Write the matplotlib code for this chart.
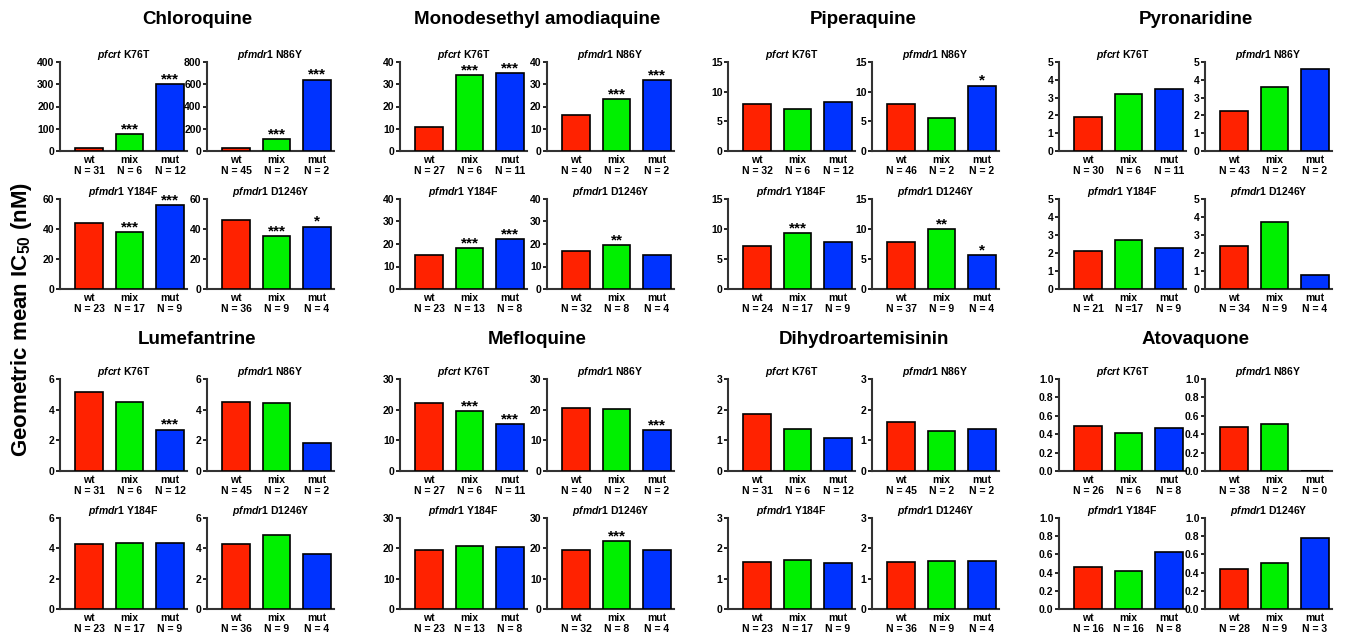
import numpy as np
import matplotlib.pyplot as plt

plt.rcParams['font.family'] = ['Liberation Sans', 'DejaVu Sans']
plt.rcParams['font.weight'] = 'bold'
plt.rcParams['mathtext.fontset'] = 'custom'
plt.rcParams['mathtext.it'] = 'Liberation Sans:italic:bold'
plt.rcParams['mathtext.rm'] = 'Liberation Sans:bold'
plt.rcParams['mathtext.bf'] = 'Liberation Sans:bold'

# ---------------------------------------------------------------------------
# data
# ---------------------------------------------------------------------------
drugs = ['Chloroquine', 'Monodesethyl amodiaquine', 'Piperaquine', 'Pyronaridine',
         'Lumefantrine', 'Mefloquine', 'Dihydroartemisinin', 'Atovaquone']
genes = [('pfcrt', 'K76T'), ('pfmdr1', 'N86Y'), ('pfmdr1', 'Y184F'), ('pfmdr1', 'D1246Y')]
groups = ['wt', 'mix', 'mut']

chloroquine_ic50 = [[15, 75, 300], [30, 105, 640], [44, 38, 56], [46, 35, 41.5]]
chloroquine_n = [[31, 6, 12], [45, 2, 2], [23, 17, 9], [36, 9, 4]]
chloroquine_sig = [['', '***', '***'], ['', '***', '***'], ['', '***', '***'], ['', '***', '*']]

amodiaquine_ic50 = [[11, 34, 35], [16.3, 23.3, 31.8], [15.3, 18, 22], [16.8, 19.6, 15.2]]
amodiaquine_n = [[27, 6, 11], [40, 2, 2], [23, 13, 8], [32, 8, 4]]
amodiaquine_sig = [['', '***', '***'], ['', '***', '***'], ['', '***', '***'], ['', '**', '']]

piperaquine_ic50 = [[8.0, 7.0, 8.3], [8.0, 5.6, 11.0], [7.2, 9.3, 7.9], [7.9, 10.0, 5.6]]
piperaquine_n = [[32, 6, 12], [46, 2, 2], [24, 17, 9], [37, 9, 4]]
piperaquine_sig = [['', '', ''], ['', '', '*'], ['', '***', ''], ['', '**', '*']]

pyronaridine_ic50 = [[1.93, 3.18, 3.47], [2.22, 3.62, 4.62], [2.1, 2.72, 2.28], [2.37, 3.7, 0.8]]
pyronaridine_n = [[30, 6, 11], [43, 2, 2], [21, 17, 9], [34, 9, 4]]
pyronaridine_sig = [['', '', ''], ['', '', ''], ['', '', ''], ['', '', '']]

lumefantrine_ic50 = [[5.15, 4.5, 2.7], [4.5, 4.42, 1.8], [4.3, 4.33, 4.35], [4.27, 4.88, 3.63]]
lumefantrine_n = [[31, 6, 12], [45, 2, 2], [23, 17, 9], [36, 9, 4]]
lumefantrine_sig = [['', '', '***'], ['', '', ''], ['', '', ''], ['', '', '']]

mefloquine_ic50 = [[22.3, 19.6, 15.2], [20.4, 20.1, 13.3], [19.4, 20.8, 20.4], [19.5, 22.3, 19.3]]
mefloquine_n = [[27, 6, 11], [40, 2, 2], [23, 13, 8], [32, 8, 4]]
mefloquine_sig = [['', '***', '***'], ['', '', '***'], ['', '', ''], ['', '***', '']]

dha_ic50 = [[1.85, 1.36, 1.07], [1.6, 1.3, 1.36], [1.55, 1.63, 1.51], [1.56, 1.59, 1.58]]
dha_n = [[31, 6, 12], [45, 2, 2], [23, 17, 9], [36, 9, 4]]
dha_sig = [['', '', ''], ['', '', ''], ['', '', ''], ['', '', '']]

atovaquone_ic50 = [[0.49, 0.41, 0.465], [0.475, 0.51, 0], [0.46, 0.42, 0.63], [0.44, 0.51, 0.775]]
atovaquone_n = [[26, 6, 8], [38, 2, 0], [16, 16, 8], [28, 9, 3]]
atovaquone_sig = [['', '', ''], ['', '', ''], ['', '', ''], ['', '', '']]

# y-axis (max, tick step) for each of the four genes
chloroquine_yaxis = [(400, 100), (800, 200), (60, 20), (60, 20)]
amodiaquine_yaxis = [(40, 10)] * 4
piperaquine_yaxis = [(15, 5)] * 4
pyronaridine_yaxis = [(5, 1)] * 4
lumefantrine_yaxis = [(6, 2)] * 4
mefloquine_yaxis = [(30, 10)] * 4
dha_yaxis = [(3, 1)] * 4
atovaquone_yaxis = [(1.0, 0.2)] * 4

all_ic50 = [chloroquine_ic50, amodiaquine_ic50, piperaquine_ic50, pyronaridine_ic50,
            lumefantrine_ic50, mefloquine_ic50, dha_ic50, atovaquone_ic50]
all_n = [chloroquine_n, amodiaquine_n, piperaquine_n, pyronaridine_n,
         lumefantrine_n, mefloquine_n, dha_n, atovaquone_n]
all_sig = [chloroquine_sig, amodiaquine_sig, piperaquine_sig, pyronaridine_sig,
           lumefantrine_sig, mefloquine_sig, dha_sig, atovaquone_sig]
all_yaxis = [chloroquine_yaxis, amodiaquine_yaxis, piperaquine_yaxis, pyronaridine_yaxis,
             lumefantrine_yaxis, mefloquine_yaxis, dha_yaxis, atovaquone_yaxis]

colors = ['#FF2200', '#00F000', '#0033FF']

# ---------------------------------------------------------------------------
# layout (pixel positions of the small axes)
# ---------------------------------------------------------------------------
W, H = 1355, 639
col_x = [60, 207, 400, 547, 728, 872, 1059, 1205]
row_y = [(62, 151), (199, 289), (379, 471), (518, 609)]
ax_w = 127

fig = plt.figure(figsize=(W / 100, H / 100), dpi=100)

for d, drug in enumerate(drugs):
    drow, dcol = divmod(d, 4)
    for g, (gene, mut) in enumerate(genes):
        grow, gcol = divmod(g, 2)
        x0 = col_x[dcol * 2 + gcol]
        top, bot = row_y[drow * 2 + grow]
        ax = fig.add_axes([x0 / W, 1 - bot / H, ax_w / W, (bot - top) / H])

        vals = all_ic50[d][g]
        ns = all_n[d][g]
        ymax, step = all_yaxis[d][g]
        xpos = np.arange(3)
        ax.bar(xpos, vals, width=0.68, color=colors, edgecolor='black', linewidth=1.2,
               zorder=3)
        for xi, v, s in zip(xpos, vals, all_sig[d][g]):
            if s:
                ax.annotate(s, (xi, v), xytext=(0, -1.5), textcoords='offset points',
                            ha='center', va='bottom', fontsize=11, fontweight='bold')

        ax.set_xlim(-0.72, 2.42)
        ax.set_ylim(0, ymax)
        ticks = np.arange(0, ymax + step / 2, step)
        ax.set_yticks(ticks)
        if ymax <= 1:
            ax.set_yticklabels([f'{t:.1f}' for t in ticks])
        else:
            ax.set_yticklabels([f'{t:g}' for t in ticks])
        ax.set_xticks(xpos)
        # the reference prints "N =17" without a space in one panel
        sep = ' = '
        labels = []
        for i, (grp, n) in enumerate(zip(groups, ns)):
            s = ' =' if (d == 3 and g == 2 and i == 1) else sep
            labels.append(f'{grp}\nN{s}{n}')
        ax.set_xticklabels(labels, fontsize=7.5, fontweight='bold', linespacing=1.15)
        ax.tick_params(axis='x', length=0, pad=3)
        ax.tick_params(axis='y', length=3, width=1.2, pad=1, labelsize=7.5)
        for lab in ax.get_yticklabels():
            lab.set_fontweight('bold')
        for sp in ['top', 'right']:
            ax.spines[sp].set_visible(False)
        for sp in ['left', 'bottom']:
            ax.spines[sp].set_linewidth(1.5)
            ax.spines[sp].set_color('#333333')
        ax.set_title(f'$\\it{{{gene}}}$ {mut}', fontsize=7.5, fontweight='bold', pad=3)

    # drug title centred over its pair of columns
    left = col_x[dcol * 2]
    right = col_x[dcol * 2 + 1] + ax_w
    ty = 20 if drow == 0 else 340
    fig.text((left + right) / 2 / W, 1 - ty / H, drug, ha='center', va='center',
             fontsize=13.5, fontweight='bold')

fig.text(22 / W, 0.5, 'Geometric mean IC$_{50}$ (nM)', rotation=90,
         ha='center', va='center', fontsize=16, fontweight='bold')

fig.savefig('out.png', dpi=100)
